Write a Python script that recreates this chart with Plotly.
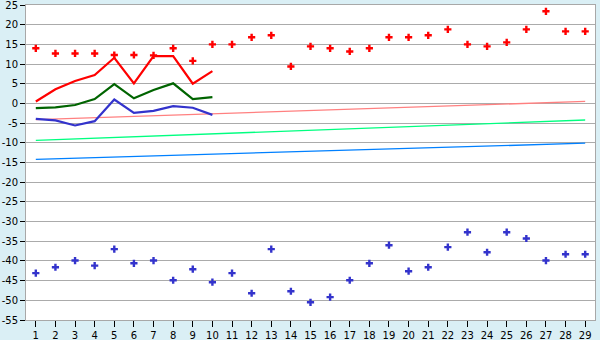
import plotly.graph_objects as go

days = list(range(1, 30))

red_points = [14.0, 12.7, 12.7, 12.7, 12.3, 12.3, 12.2, 14.0, 10.8, 15.0,
              15.0, 16.8, 17.3, 9.4, 14.5, 14.0, 13.2, 14.0, 16.8, 16.8,
              17.3, 18.8, 15.0, 14.5, 15.5, 18.8, 23.4, 18.3, 18.3]
blue_points = [-43.1, -41.6, -39.9, -41.2, -37.0, -40.6, -39.9, -44.9, -42.1, -45.4,
               -43.1, -48.2, -37.0, -47.7, -50.5, -49.2, -44.9, -40.6, -36.0, -42.6,
               -41.6, -36.5, -32.7, -37.8, -32.7, -34.3, -39.9, -38.3, -38.3]

line_days = list(range(1, 11))
red_line = [0.5, 3.6, 5.7, 7.2, 11.6, 5.1, 12.0, 12.0, 5.0, 8.2]
green_line = [-1.2, -1.0, -0.4, 1.1, 4.9, 1.3, 3.4, 5.1, 1.1, 1.6]
blue_line = [-3.9, -4.3, -5.6, -4.5, 1.0, -2.4, -1.9, -0.7, -1.1, -2.9]

trend_days = [1, 29]
trend_pink = [-4.1, 0.5]
trend_green = [-9.4, -4.2]
trend_blue = [-14.2, -10.1]

y_ticks = list(range(-55, 30, 5))
y_labels = [str(v) for v in y_ticks]

fig = go.Figure()

for ys, col in [(trend_pink, "#FF8080"), (trend_green, "#00FF80"), (trend_blue, "#0080FF")]:
    fig.add_trace(go.Scatter(x=trend_days, y=ys, mode="lines",
                             line=dict(color=col, width=1.3), hoverinfo="skip"))

for ys, col in [(blue_line, "#3333CC"), (green_line, "#006400"), (red_line, "#FF0000")]:
    fig.add_trace(go.Scatter(x=line_days, y=ys, mode="lines",
                             line=dict(color=col, width=2.2)))

fig.add_trace(go.Scatter(x=days, y=red_points, mode="markers",
                         marker=dict(symbol="cross", size=6, color="#FF0000", line=dict(width=0))))
fig.add_trace(go.Scatter(x=days, y=blue_points, mode="markers",
                         marker=dict(symbol="cross", size=6, color="#3333CC", line=dict(width=0))))

font = dict(family="DejaVu Sans", size=10, color="#000000")

fig.update_layout(
    width=600, height=340,
    margin=dict(l=26, r=5, t=5, b=20),
    paper_bgcolor="#DAEFF5",
    plot_bgcolor="#FFFFFF",
    showlegend=False,
    font=font,
    xaxis=dict(range=[0.5, 29.5], tickvals=days, ticktext=[str(d) for d in days],
               showgrid=False, zeroline=False, ticks="outside", ticklen=6,
               tickcolor="#000000", showline=True, linecolor="#A8A8A8",
               linewidth=1, mirror=True, tickfont=font, automargin=False,
               ticklabeloverflow="allow"),
    yaxis=dict(range=[-55, 25], tickvals=y_ticks, ticktext=y_labels, showgrid=True,
               gridcolor="#ABABAB", gridwidth=1, zeroline=False, ticks="outside",
               ticklen=5, tickcolor="#000000", showline=True, linecolor="#A8A8A8",
               linewidth=1, mirror=True, tickfont=font, automargin=False,
               ticklabeloverflow="allow", ticklabelstandoff=0),
)

fig.write_html("out.html")
